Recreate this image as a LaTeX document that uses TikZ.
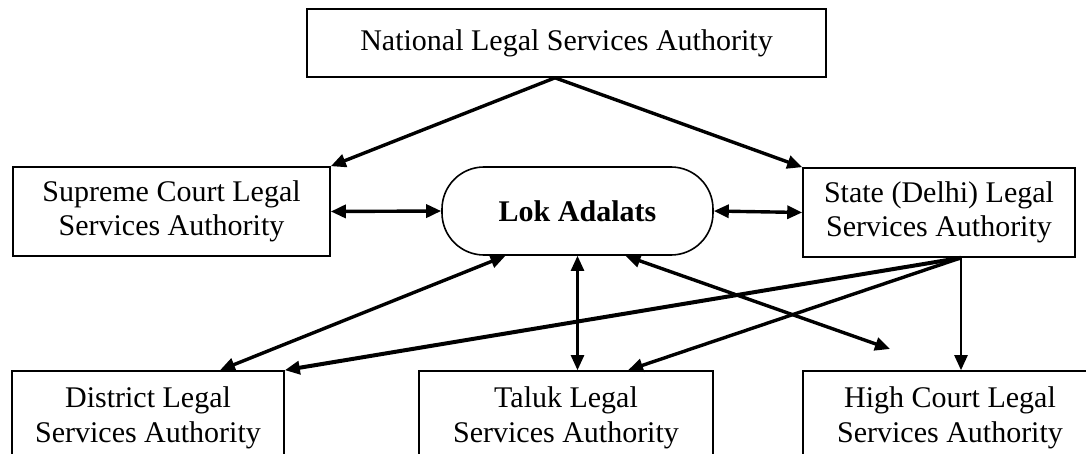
\documentclass[tikz,border=0pt]{standalone}
\usepackage{fontspec}
\setmainfont{Liberation Serif}
\usetikzlibrary{arrows.meta}

\tikzset{
  authbox/.style={draw,line width=1.6pt,align=center,inner sep=0pt,
    font=\fontsize{30}{34.5}\selectfont},
  lokbox/.style={authbox,rounded corners=42pt,font=\fontsize{30}{34.5}\selectfont\bfseries},
  link/.style={line width=3.4pt,-{Triangle[length=15pt,width=13pt]}},
  twoway/.style={line width=3.4pt,{Triangle[length=15pt,width=13pt]}-{Triangle[length=15pt,width=13pt]}},
}

\begin{document}
\begin{tikzpicture}[x=1pt,y=-1pt]
            \useasboundingbox (0,0) rectangle (1086,454);
            \node[authbox,minimum width=519pt,minimum height=68pt] (nlsa) at (566.5,43) {National Legal Services Authority};
            \node[authbox,minimum width=317pt,minimum height=89pt] (sclsa) at (171.5,211.5) {Supreme Court Legal\\Services Authority};
            \node[lokbox,minimum width=271pt,minimum height=88pt] (lok) at (577.5,211) {Lok Adalats};
            \node[authbox,minimum width=272pt,minimum height=89pt] (slsa) at (939,212.5) {State (Delhi) Legal\\Services Authority};
            \node[authbox,minimum width=272pt,minimum height=94pt] (dlsa) at (148,418) {District Legal\\Services Authority};
            \node[authbox,minimum width=294pt,minimum height=94pt] (tlsa) at (566,418) {Taluk Legal\\Services Authority};
            \node[authbox,minimum width=294pt,minimum height=94pt] (hclsa) at (950,418) {High Court Legal\\Services Authority};
            \coordinate (apex) at ([xshift=-11.5pt]nlsa.south);
            \coordinate (slfoot) at ([xshift=22pt]slsa.south);
            \coordinate (hcfree) at (890,349);
            \draw[link] (apex)--(sclsa.north east);
            \draw[link] (apex)--(slsa.north west);
            \draw[twoway] (sclsa.east)--(lok.west);
            \draw[twoway] (lok.east)--(slsa.west);
            \draw[twoway] ([xshift=-72pt]lok.south)--([xshift=72pt]dlsa.north);
            \draw[twoway,line width=2.4pt] (lok.south)--(lok.south |- tlsa.north);
            \draw[twoway] ([xshift=48pt]lok.south)--(hcfree);
            \draw[link,line width=4pt] (slfoot)--(dlsa.north east);
            \draw[link] (slfoot)--([xshift=62pt]tlsa.north);
            \draw[link,line width=2.4pt] (slfoot)--(slfoot |- hclsa.north);
        \end{tikzpicture}
\end{document}
